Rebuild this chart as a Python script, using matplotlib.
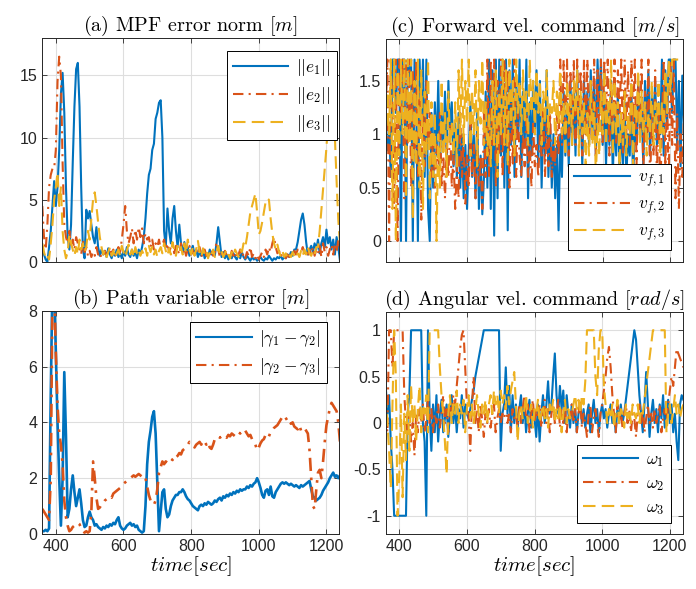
import matplotlib
matplotlib.use('Agg')
import matplotlib.pyplot as plt
import numpy as np
from matplotlib.ticker import FuncFormatter

# sample times (5 s step)
t = np.arange(360, 1241, 5)

# (a) MPF error norm
e1 = [1.0, 0.6, 0.2, 0.0, 1.2, 2.5, 4.5, 6.5, 4.5, 6.0,
      9.0, 13.5, 15.2, 12.0, 6.0, 2.0, 1.0, 3.0, 8.0, 12.5,
      15.5, 16.0, 12.5, 6.0, 1.0, 0.3, 4.2, 3.5, 4.1, 3.0,
      2.0, 1.5, 2.8, 1.2, 0.5, 1.0, 0.6, 0.9, 0.4, 1.1,
      0.6, 0.3, 0.8, 0.5, 1.0, 0.4, 0.7, 0.3, 0.9, 0.5,
      1.2, 0.6, 0.4, 1.0, 0.5, 0.8, 0.3, 1.0, 0.6, 1.2,
      2.0, 3.5, 5.5, 7.0, 7.5, 9.0, 9.5, 11.5, 12.0, 12.8,
      13.0, 10.0, 2.5, 1.2, 4.3, 2.5, 1.5, 3.5, 4.5, 2.5,
      1.2, 3.0, 1.5, 0.8, 1.6, 0.7, 1.2, 0.5, 0.9, 1.3,
      0.6, 1.0, 0.4, 0.8, 0.5, 1.0, 0.3, 0.7, 0.4, 1.0,
      0.6, 0.9, 0.5, 1.5, 2.8, 1.6, 0.4, 0.8, 0.3, 0.6,
      0.2, 0.5, 0.3, 0.7, 0.4, 0.2, 0.6, 0.3, 0.8, 0.4,
      0.2, 0.5, 0.3, 0.1, 0.4, 0.2, 0.3, 0.1, 0.2, 0.4,
      0.2, 0.1, 0.3, 0.2, 0.5, 0.3, 0.1, 0.3, 0.2, 0.4,
      0.3, 0.5, 0.2, 0.4, 0.3, 0.6, 0.4, 0.8, 0.5, 1.0,
      1.0, 1.6, 2.5, 3.4, 3.9, 3.0, 1.6, 0.6, 1.0, 1.3,
      0.8, 1.5, 1.0, 1.8, 0.7, 1.5, 2.0, 1.2, 2.6, 1.5,
      2.0, 1.0, 1.8, 0.6, 2.0, 1.2, 0.1]
e2 = [4.5, 2.0, 1.0, 3.0, 6.0, 7.0, 7.5, 7.5, 9.0, 14.5,
      16.5, 15.0, 8.0, 3.0, 2.0, 1.5, 2.5, 1.2, 1.8, 1.0,
      2.0, 1.5, 1.2, 0.6, 1.8, 0.8, 1.2, 0.5, 0.9, 0.4,
      0.8, 0.5, 1.2, 0.6, 0.8, 0.3, 0.6, 0.9, 0.5, 0.8,
      1.2, 0.6, 1.0, 0.5, 0.8, 1.2, 0.8, 1.8, 3.0, 4.5,
      2.5, 1.5, 2.0, 2.7, 1.5, 2.6, 1.8, 2.8, 2.0, 2.7,
      1.5, 2.3, 1.8, 2.0, 1.2, 1.8, 1.0, 1.5, 1.2, 1.8,
      1.0, 1.4, 1.8, 1.0, 1.5, 0.8, 1.2, 1.5, 0.7, 1.3,
      1.0, 0.6, 1.5, 0.8, 1.1, 0.5, 1.0, 1.3, 0.6, 0.9,
      0.5, 1.0, 0.7, 1.2, 0.4, 0.8, 1.0, 0.5, 0.9, 0.6,
      1.0, 0.5, 0.8, 1.6, 1.0, 0.4, 0.7, 0.3, 0.9, 0.5,
      0.7, 0.3, 0.9, 0.5, 0.8, 0.3, 0.6, 1.0, 0.4, 0.7,
      0.3, 0.8, 0.5, 1.2, 0.4, 0.7, 0.3, 0.6, 0.2, 0.5,
      0.8, 0.4, 1.0, 0.6, 1.2, 0.8, 1.5, 2.0, 1.2, 0.7,
      0.9, 0.4, 0.7, 0.5, 0.3, 0.6, 0.4, 0.8, 0.5, 0.9,
      0.6, 1.0, 0.5, 0.8, 1.2, 0.6, 0.9, 0.4, 1.0, 0.6,
      1.2, 0.5, 1.0, 0.7, 1.3, 0.4, 1.5, 0.8, 1.2, 0.5,
      1.0, 1.4, 0.6, 1.5, 0.8, 1.8, 1.2]
e3 = [1.5, 0.8, 0.3, 0.5, 0.2, 1.5, 3.0, 5.0, 6.0, 7.2,
      4.5, 6.0, 2.5, 1.0, 0.3, 0.8, 2.2, 1.5, 1.0, 0.5,
      1.2, 0.6, 1.8, 1.0, 1.5, 0.8, 1.2, 2.5, 1.8, 3.5,
      5.0, 5.6, 4.5, 3.2, 2.0, 1.2, 0.6, 1.0, 0.4, 0.8,
      1.2, 0.5, 0.9, 0.3, 0.7, 1.0, 0.5, 1.3, 0.8, 0.4,
      0.9, 1.4, 0.6, 1.0, 0.4, 1.2, 0.7, 1.0, 0.5, 0.9,
      0.6, 1.1, 0.5, 1.3, 0.8, 1.2, 0.6, 1.0, 0.4, 0.9,
      1.2, 0.7, 1.5, 0.9, 0.5, 1.1, 0.6, 1.6, 1.0, 0.5,
      1.3, 0.8, 1.2, 0.6, 1.5, 0.7, 1.8, 1.0, 0.6, 1.2,
      0.5, 1.0, 1.7, 0.8, 0.4, 1.1, 0.6, 0.9, 0.3, 0.8,
      0.5, 1.0, 0.4, 0.8, 1.3, 0.6, 0.9, 0.4, 0.7, 1.0,
      0.6, 0.3, 0.8, 0.5, 1.0, 0.7, 0.4, 1.0, 0.8, 1.5,
      1.2, 2.0, 3.0, 4.0, 4.5, 5.0, 5.5, 4.0, 2.2, 2.5,
      3.2, 4.0, 4.8, 5.1, 5.0, 3.5, 2.3, 1.5, 1.0, 1.4,
      0.8, 0.5, 0.9, 0.4, 0.7, 0.3, 0.6, 0.4, 0.8, 0.5,
      0.3, 0.7, 0.4, 0.9, 0.5, 1.0, 0.6, 1.2, 0.7, 0.5,
      0.9, 0.6, 1.2, 1.2, 2.5, 4.2, 5.8, 7.5, 9.2, 11.3,
      12.5, 13.5, 12.8, 10.0, 6.5, 3.4, 1.5]

# (b) path variable error
g12 = [0.1, 0.1, 0.15, 0.1, 0.2, 5.0, 9.0, 9.0, 6.5, 4.0,
       2.0, 0.3, 2.0, 5.8, 3.5, 0.6, 0.9, 1.6, 2.1, 1.5,
       1.0, 1.3, 1.6, 1.1, 0.5, 0.25, 0.3, 0.6, 0.8, 0.6,
       0.5, 0.3, 0.35, 0.25, 0.2, 0.15, 0.25, 0.2, 0.3, 0.25,
       0.35, 0.3, 0.4, 0.35, 0.5, 0.6, 0.3, 0.2, 0.15, 0.2,
       0.3, 0.35, 0.4, 0.3, 0.35, 0.25, 0.3, 0.15, 0.1, 0.05,
       0.1, 1.0, 2.5, 3.3, 3.7, 4.2, 4.4, 3.6, 1.8, 0.1,
       0.8, 1.5, 1.6, 0.9, 0.6, 0.7, 1.0, 1.2, 1.3, 1.4,
       1.4, 1.5, 1.5, 1.6, 1.5, 1.35, 1.25, 1.2, 1.1, 1.0,
       0.95, 0.9, 0.85, 1.0, 1.05, 1.0, 1.1, 1.05, 1.15, 1.1,
       1.05, 1.1, 1.2, 1.15, 1.25, 1.3, 1.2, 1.35, 1.3, 1.4,
       1.35, 1.45, 1.4, 1.5, 1.45, 1.55, 1.5, 1.6, 1.55, 1.6,
       1.6, 1.7, 1.65, 1.75, 1.7, 1.8, 1.85, 2.0, 1.85, 1.65,
       1.4, 1.3, 1.55, 1.6, 1.4, 1.7, 1.35, 1.3, 1.5, 1.6,
       1.7, 1.8, 1.85, 1.8, 1.85, 1.8, 1.75, 1.8, 1.75, 1.7,
       1.75, 1.7, 1.65, 1.75, 1.7, 1.75, 1.8, 1.85, 1.9, 1.6,
       1.35, 1.3, 1.2, 1.25, 1.3, 1.4, 1.55, 1.65, 1.75, 1.85,
       2.0, 2.1, 2.2, 2.05, 2.1, 2.0, 2.1]
g23 = [0.9, 0.8, 0.7, 0.6, 0.5, 2.0, 8.5, 9.0, 6.5, 4.6,
       3.6, 3.2, 2.5, 1.2, 0.6, 0.3, 0.1, 0.15, 0.25, 0.3,
       0.35, 0.4, 0.35, 0.2, 0.1, 0.05, 0.1, 0.05, 0.1, 0.8,
       2.6, 2.0, 1.3, 0.9, 0.95, 1.05, 1.1, 1.2, 1.25, 1.3,
       1.35, 1.3, 1.45, 1.5, 1.55, 1.6, 1.65, 1.7, 1.8, 1.85,
       1.9, 1.95, 2.0, 2.05, 2.1, 2.05, 2.1, 2.15, 2.1, 2.05,
       2.1, 2.0, 1.7, 1.4, 1.2, 1.1, 1.05, 1.2, 1.6, 2.2,
       2.4, 2.6, 2.5, 2.6, 2.55, 2.6, 2.7, 2.65, 2.8, 2.75,
       2.8, 2.9, 2.85, 3.0, 3.05, 3.1, 3.2, 3.3, 3.25, 3.2,
       3.1, 3.2, 3.25, 3.3, 3.2, 3.35, 3.3, 3.2, 3.3, 3.1,
       3.05, 3.2, 3.4, 3.45, 3.5, 3.45, 3.5, 3.55, 3.5, 3.45,
       3.55, 3.5, 3.6, 3.55, 3.5, 3.6, 3.65, 3.6, 3.7, 3.75,
       3.7, 3.6, 3.5, 3.55, 3.4, 3.3, 3.2, 3.0, 3.1, 3.25,
       3.35, 3.4, 3.55, 3.6, 3.5, 3.65, 3.7, 3.8, 3.85, 3.9,
       4.0, 4.1, 4.2, 4.25, 4.15, 4.05, 4.1, 3.95, 4.0, 3.85,
       3.8, 3.75, 3.9, 3.7, 3.75, 3.8, 3.7, 3.6, 3.0, 2.0,
       1.0, 0.9, 1.6, 2.2, 2.3, 2.0, 2.6, 3.3, 3.9, 4.2,
       4.5, 4.7, 4.6, 4.5, 4.4, 4.0, 3.3]

# (c) forward velocity command
vf1 = [1.0, 0.85, 1.1, 0.6, 1.7, 1.7, 1.2, 1.7, 1.7, 0.0,
       1.7, 1.7, 0.0, 1.7, 1.5, 1.7, 0.0, 1.7, 1.3, 0.0,
       1.7, 1.1, 1.7, 0.6, 1.7, 0.3, 0.0, 1.2, 0.5, 1.3,
       0.8, 1.5, 0.7, 1.2, 0.9, 1.4, 0.8, 1.5, 1.0, 1.3,
       0.7, 1.1, 0.6, 1.2, 0.5, 1.0, 0.4, 0.9, 0.3, 0.8,
       1.3, 0.6, 1.0, 0.4, 1.2, 0.3, 0.8, 0.25, 0.6, 1.4,
       0.5, 1.7, 0.3, 1.6, 0.05, 1.7, 0.4, 1.7, 0.8, 1.7,
       0.5, 1.7, 0.1, 1.6, 0.9, 1.7, 0.6, 1.5, 1.0, 1.7,
       0.6, 1.4, 0.9, 1.7, 0.4, 1.3, 0.8, 1.5, 1.0, 1.6,
       0.7, 1.5, 0.5, 1.2, 0.8, 1.6, 0.6, 1.1, 0.5, 1.0,
       0.4, 0.9, 0.1, 1.0, 0.6, 1.4, 0.8, 1.3, 0.7, 1.5,
       0.9, 1.4, 0.8, 1.6, 1.0, 1.3, 0.7, 1.5, 1.1, 1.4,
       0.9, 1.6, 1.0, 1.5, 0.8, 1.7, 1.2, 1.7, 0.9, 1.4,
       0.7, 1.3, 0.9, 1.5, 0.6, 1.2, 0.8, 1.4, 0.6, 1.1,
       0.7, 1.3, 0.6, 1.0, 0.8, 1.4, 0.5, 1.2, 0.9, 1.5,
       1.0, 1.3, 0.7, 1.5, 1.0, 1.6, 0.8, 1.4, 1.1, 1.5,
       0.9, 1.3, 1.0, 1.7, 0.8, 1.6, 1.1, 1.7, 1.7, 1.2,
       1.7, 1.7, 0.9, 1.5, 0.7, 1.55, 1.1]
vf2 = [1.2, 1.7, 0.0, 1.7, 1.3, 0.3, 1.7, 0.0, 1.7, 1.2,
       1.7, 0.4, 1.7, 0.9, 1.7, 0.5, 1.6, 0.8, 1.7, 0.6,
       1.4, 0.2, 1.2, 0.7, 1.5, 0.9, 1.2, 0.6, 1.0, 0.5,
       0.9, 0.6, 1.2, 0.5, 0.8, 0.4, 0.9, 0.6, 1.1, 0.5,
       0.8, 0.3, 0.7, 0.4, 1.2, 0.6, 1.0, 0.35, 0.8, 0.5,
       1.1, 0.6, 0.9, 0.4, 1.0, 0.5, 0.8, 0.3, 1.2, 0.6,
       1.7, 0.6, 1.7, 0.9, 1.7, 0.5, 1.5, 0.8, 1.7, 0.6,
       1.7, 0.9, 1.6, 0.5, 1.3, 0.7, 1.7, 0.6, 1.2, 0.8,
       0.6, 1.0, 0.7, 1.2, 0.6, 0.9, 0.5, 1.1, 0.7, 0.9,
       0.6, 1.0, 0.8, 1.3, 0.6, 1.1, 0.7, 1.2, 0.6, 0.9,
       0.7, 1.2, 0.8, 1.7, 0.9, 1.7, 1.0, 1.7, 0.8, 1.6,
       1.0, 1.7, 0.9, 1.7, 1.1, 1.6, 0.8, 1.7, 1.0, 1.7,
       0.9, 1.5, 1.1, 1.7, 0.8, 1.6, 1.0, 1.7, 0.9, 1.7,
       1.1, 1.7, 0.8, 1.5, 1.0, 1.7, 0.9, 1.6, 1.2, 1.7,
       0.8, 1.7, 1.0, 1.6, 0.9, 1.7, 1.1, 1.7, 0.7, 1.5,
       1.0, 1.7, 0.6, 1.4, 0.9, 1.7, 0.5, 1.2, 0.8, 1.6,
       0.6, 1.3, 0.4, 1.1, 1.7, 0.7, 1.4, 0.5, 1.7, 0.9,
       1.7, 0.4, 1.2, 0.3, 1.0, 0.6, 1.2]
vf3 = [0.9, 1.4, 1.0, 1.7, 0.3, 1.7, 0.0, 1.6, 0.8, 1.7,
       1.0, 1.7, 0.4, 1.7, 0.9, 1.7, 0.2, 1.5, 0.7, 1.7,
       0.5, 1.6, 0.3, 1.4, 0.8, 1.7, 0.4, 1.3, 0.6, 1.2,
       0.0, 1.0, 0.5, 1.5, 0.8, 1.2, 0.6, 1.4, 0.9, 1.1,
       0.8, 1.3, 0.7, 1.6, 1.0, 1.7, 0.9, 1.5, 1.1, 1.7,
       0.8, 1.4, 1.0, 1.6, 0.7, 1.5, 1.1, 1.7, 0.9, 1.3,
       0.8, 1.2, 0.7, 1.5, 0.9, 1.6, 0.6, 1.4, 1.0, 1.7,
       0.9, 1.6, 0.7, 1.7, 1.1, 1.5, 0.8, 1.7, 1.2, 1.5,
       1.0, 1.6, 1.1, 1.4, 0.9, 1.7, 1.2, 1.5, 1.0, 1.6,
       1.2, 1.5, 0.9, 1.4, 1.1, 1.6, 1.0, 1.3, 1.2, 1.5,
       0.9, 1.4, 1.1, 1.6, 1.0, 1.3, 0.8, 1.5, 1.1, 1.4,
       0.9, 1.5, 1.2, 1.6, 0.8, 1.4, 1.0, 1.3, 0.7, 1.2,
       0.8, 1.5, 0.9, 1.3, 0.6, 1.1, 0.8, 1.4, 1.0, 1.6,
       0.9, 1.3, 1.1, 1.7, 0.8, 1.5, 1.0, 1.3, 0.7, 1.2,
       0.9, 1.4, 0.8, 1.2, 1.0, 1.5, 0.7, 1.3, 1.1, 1.6,
       0.9, 1.4, 1.0, 1.3, 0.8, 1.2, 1.0, 1.5, 0.9, 1.3,
       1.1, 1.5, 0.8, 1.3, 1.0, 1.6, 1.2, 1.7, 1.4, 1.7,
       1.7, 1.7, 1.7, 1.7, 1.7, 1.7, 1.7]

# (d) angular velocity command
w1 = [0.4, 0.1, 0.3, -0.2, -0.5, -1.0, -1.0, -1.0, -1.0, -1.0,
      -1.0, -1.0, -1.0, 0.1, 0.3, 1.0, 1.0, 1.0, 1.0, 1.0,
      1.0, 1.0, 0.0, -0.2, -1.0, 1.0, 0.1, -0.3, 0.2, -0.1,
      0.3, -0.2, 0.1, 0.25, -0.1, 0.05, 0.2, -0.15, 0.1, 0.3,
      0.0, 0.2, -0.1, 0.15, 0.05, 0.3, -0.05, 0.2, 0.1, 0.05,
      0.15, 0.25, 0.35, 0.5, 0.6, 0.7, 0.8, 0.9, 1.0, 1.0,
      1.0, 1.0, 1.0, 1.0, 1.0, 1.0, 1.0, 1.0, -0.3, 0.1,
      0.2, 0.6, 0.1, 0.4, -0.1, 0.3, 0.0, 0.2, -0.05, 0.15,
      0.3, 0.0, 0.2, -0.1, 0.1, 0.25, -0.05, 0.15, 0.05, -0.15,
      0.2, -0.2, 0.1, 0.3, 0.0, 0.2, 0.45, 0.1, 0.2, 0.5,
      0.75, 0.3, 0.1, 0.4, 0.15, 0.35, 0.0, 0.3, 0.1, -0.05,
      0.2, 0.0, 0.15, -0.1, 0.1, 0.2, 0.0, 0.15, -0.05, 0.1,
      0.2, -0.1, 0.1, 0.25, 0.0, 0.15, -0.1, 0.1, 0.2, 0.05,
      0.15, -0.05, 0.1, 0.2, 0.0, 0.1, -0.1, 0.15, 0.05, 0.2,
      0.0, 0.1, 0.25, 0.4, 0.55, 0.7, 0.85, 1.0, 0.9, 0.6,
      0.3, 0.1, -0.1, 0.2, 0.55, 0.2, -0.15, 0.1, 0.25, 0.0,
      0.15, -0.1, 0.2, 0.05, 0.3, -0.05, 0.15, 0.25, 0.0, 0.2,
      -0.1, 0.1, -0.2, -0.4, 0.2, 0.3, 0.25]
w2 = [0.1, -0.1, 1.0, 1.0, 0.6, 1.0, 1.0, 1.0, 1.0, 1.0,
      1.0, 0.3, 0.0, -0.1, 0.1, -0.2, 0.0, -0.35, 0.1, -0.1,
      0.15, 0.0, 0.2, -0.1, 0.05, 0.25, 0.0, 0.15, -0.1, 0.1,
      0.0, 0.2, -0.05, 0.1, 0.3, 0.0, 0.15, -0.1, 0.2, 0.1,
      0.3, 0.2, 0.4, 0.6, 0.8, 0.95, 1.0, 0.6, 0.2, 0.1,
      -0.3, 0.2, 0.5, 0.0, 0.15, -0.1, 0.2, 0.05, -0.15, 0.1,
      0.0, 0.15, -0.05, 0.1, 0.2, -0.1, 0.05, 0.15, 0.0, 0.1,
      0.05, 0.2, 0.0, 0.1, -0.1, 0.15, 0.05, 0.1, -0.05, 0.2,
      0.0, 0.15, 0.3, 0.05, 0.2, -0.1, 0.1, 0.25, 0.0, 0.15,
      0.05, 0.2, -0.05, 0.1, 0.25, 0.0, 0.15, -0.1, 0.1, 0.2,
      0.0, 0.1, 0.25, -0.05, 0.15, 0.0, 0.2, -0.1, 0.1, 0.05,
      0.2, 0.0, 0.15, -0.1, 0.1, 0.25, -0.05, 0.1, 0.0, -0.15,
      0.1, 0.2, -0.1, 0.05, 0.15, 0.0, -0.15, 0.1, 0.2, 0.35,
      0.5, 0.7, 0.82, 0.6, 0.3, 0.1, -0.1, 0.2, 0.0, 0.15,
      -0.05, 0.1, 0.2, 0.0, 0.15, -0.1, 0.1, 0.05, -0.15, 0.1,
      0.2, 0.0, 0.15, -0.1, 0.05, 0.2, 0.0, 0.1, -0.05, 0.15,
      0.0, 0.1, 0.2, -0.1, 0.05, 0.15, 0.0, 0.2, 0.35, 0.5,
      0.4, 0.6, 0.8, 0.75, 0.7, 0.65, 0.6]
w3 = [0.3, 0.0, -0.3, -0.7, 0.2, 1.0, 0.5, -1.0, -0.6, 0.2,
      -0.8, 0.1, -0.4, 0.3, -0.3, 0.4, 0.0, 0.2, -0.2, 0.15,
      0.4, -0.1, 0.2, 0.1, 0.3, -0.1, 1.0, 1.0, 1.0, 1.0,
      1.0, 1.0, 0.6, 0.3, 0.1, -0.2, -0.55, 0.1, 0.3, 0.0,
      0.2, 0.1, 0.35, 0.0, 0.2, 0.1, 0.25, -0.1, 0.15, 0.3,
      0.05, 0.2, 0.0, 0.15, 0.3, 0.1, -0.05, 0.2, 0.1, 0.25,
      0.0, 0.2, 0.3, 0.1, 0.35, 0.2, 0.3, 0.1, 0.35, 0.2,
      0.3, 0.15, 0.4, 0.2, 0.35, 0.45, 0.55, 0.2, -0.2, 0.1,
      0.2, 0.05, 0.15, 0.3, 0.0, 0.1, 0.2, -0.05, 0.15, 0.1,
      0.25, 0.0, 0.1, 0.2, 0.05, 0.15, -0.05, 0.2, 0.1, 0.25,
      0.0, 0.15, 0.05, 0.2, -0.1, 0.1, 0.25, 0.0, 0.15, 0.05,
      0.1, 0.2, 0.3, 0.15, 0.25, 0.1, 0.3, 0.2, 0.45, 1.0,
      1.0, 1.0, 1.0, 1.0, 0.5, 0.3, 0.8, 1.0, 1.0, 0.4,
      0.2, 0.0, 0.15, 0.05, 0.2, -0.05, 0.1, 0.25, 0.0, 0.15,
      0.1, -0.05, 0.2, 0.05, 0.15, 0.0, 0.2, 0.1, 0.05, 0.2,
      0.0, 0.15, 0.1, 0.25, 0.4, 0.55, 0.7, 0.85, 1.0, 1.0,
      1.0, 1.0, 1.0, 1.0, 1.0, 1.0, -0.1, 0.1, 0.2, 0.0,
      0.15, 0.3, 0.1, 0.2, 0.05, 0.15, 0.2]

blue, orange, yellow = '#0072BD', '#D95319', '#EDB120'
dash = (0, (6, 3))
dashdot = (0, (5, 2.5, 1, 2.5))
edge = '#262626'

plt.rcParams['font.family'] = ['Liberation Sans', 'DejaVu Sans']
plt.rcParams['mathtext.fontset'] = 'cm'
plt.rcParams['axes.unicode_minus'] = False

fig = plt.figure(figsize=(6.96, 5.89), dpi=100)
W, H = 696.0, 589.0


def make_ax(x0, x1, y0, y1):
    ax = fig.add_axes([x0 / W, 1 - y1 / H, (x1 - x0) / W, (y1 - y0) / H])
    ax.set_xlim(360, 1238)
    ax.set_xticks([400, 600, 800, 1000, 1200])
    ax.grid(True, color='#dedede', linewidth=0.8)
    ax.set_axisbelow(True)
    ax.tick_params(direction='in', top=True, right=True, length=3.5,
                   width=0.6, labelsize=11.5, colors=edge, labelcolor=edge)
    for s in ax.spines.values():
        s.set_color(edge)
        s.set_linewidth(0.7)
    ax.yaxis.set_major_formatter(FuncFormatter(lambda v, p: '%g' % v))
    return ax


def leg(ax, labels, loc, anchor):
    lg = ax.legend(labels, loc=loc, bbox_to_anchor=anchor, fontsize=12.5,
                   handlelength=3.2, handletextpad=0.45, labelspacing=0.4,
                   borderpad=0.35, borderaxespad=0, fancybox=False,
                   framealpha=1, edgecolor='black')
    lg.get_frame().set_linewidth(0.7)
    for h in lg.get_lines():
        h.set_linewidth(1.5)


ttl = dict(fontfamily='cmr10', fontsize=14.5, pad=5)
xl = dict(fontsize=15, labelpad=0)

# (a)
ax = make_ax(42.3, 339.3, 38, 262)
ax.plot(t, e1, color=blue, lw=1.5)
ax.plot(t, e2, color=orange, lw=1.5, linestyle=dashdot)
ax.plot(t, e3, color=yellow, lw=1.5, linestyle=dash)
ax.set_ylim(0, 18)
ax.set_yticks([0, 5, 10, 15])
ax.set_xticklabels([])
ax.set_title(r'(a) MPF error norm $[m]$', **ttl)
leg(ax, [r'$||e_1||$', r'$||e_2||$', r'$||e_3||$'], 'upper right', (0.991, 0.943))

# (b)
ax = make_ax(42.3, 339.3, 310.7, 534)
ax.plot(t, g12, color=blue, lw=1.9)
ax.plot(t, g23, color=orange, lw=1.9, linestyle=dashdot)
ax.set_ylim(0, 8)
ax.set_yticks([0, 2, 4, 6, 8])
ax.set_title(r'(b) Path variable error $[m]$', **ttl)
ax.set_xlabel(r'$time[sec]$', **xl)
leg(ax, [r'$|\gamma_1 - \gamma_2|$', r'$|\gamma_2 - \gamma_3|$'], 'upper right', (0.959, 0.949))

# (c)
ax = make_ax(385.7, 683.3, 39.3, 262.3)
ax.plot(t, vf1, color=blue, lw=1.5)
ax.plot(t, vf2, color=orange, lw=1.5, linestyle=dashdot)
ax.plot(t, vf3, color=yellow, lw=1.5, linestyle=dash)
ax.set_ylim(-0.2, 1.89)
ax.set_yticks([0, 0.5, 1, 1.5])
ax.set_xticklabels([])
ax.set_title(r'(c) Forward vel. command $[m/s]$', **ttl)
leg(ax, [r'$v_{f,1}$', r'$v_{f,2}$', r'$v_{f,3}$'], 'lower right', (0.959, 0.054))

# (d)
ax = make_ax(385.7, 682.7, 311.7, 534.3)
ax.plot(t, w1, color=blue, lw=1.5)
ax.plot(t, w2, color=orange, lw=1.5, linestyle=dashdot)
ax.plot(t, w3, color=yellow, lw=1.5, linestyle=dash)
ax.set_ylim(-1.2, 1.2)
ax.set_yticks([-1, -0.5, 0, 0.5, 1])
ax.set_title(r'(d) Angular vel. command $[rad/s]$', **ttl)
ax.set_xlabel(r'$time[sec]$', **xl)
leg(ax, [r'$\omega_1$', r'$\omega_2$', r'$\omega_3$'], 'lower right', (0.959, 0.052))

fig.savefig('out.png', dpi=100)
